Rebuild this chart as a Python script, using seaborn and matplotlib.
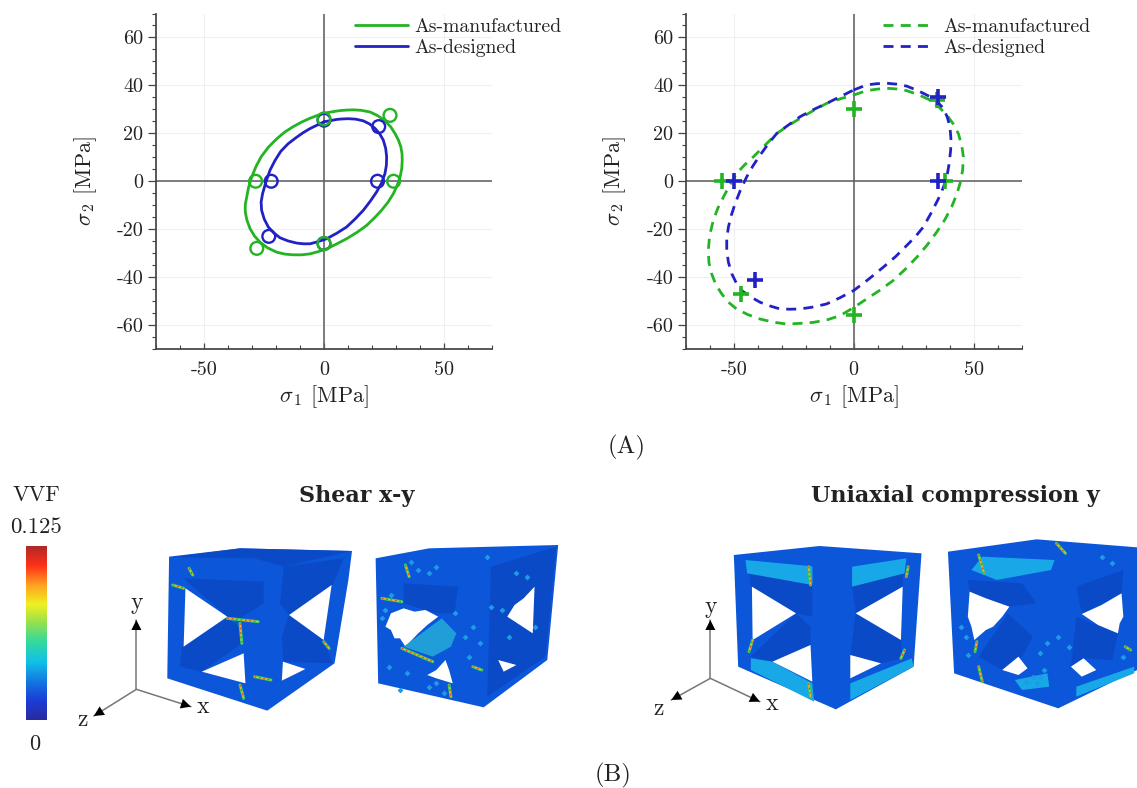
import matplotlib
matplotlib.use('Agg')
import matplotlib.pyplot as plt
import seaborn as sns
from matplotlib.cm import ScalarMappable
from matplotlib.colors import Normalize
from matplotlib.patches import Polygon

GREEN = '#22b422'
BLUE = '#2222c4'
AXIS_GREY = '#666666'
TEXT = '#222222'
LEGEND_LABELS = ['As-manufactured', 'As-designed']

# Left plot: solid curves and circles
left_green_x = [0, 3.5, 6.7, 9.5, 12.2, 15.5, 19.2, 22.5, 25.4, 27.8, 29.6, 31, 32, 32.5, 32.6, 32.4, 31.7, 30.5, 28.9, 26.7, 24, 21, 17.8, 13.8, 9.4, 5.2, 1.1, -2.5, -5.8, -9.3, -12.8, -16.3, -19.7, -23.5, -26.7, -29, -30.8, -32.1, -32.8, -32.8, -32.2, -31.4, -30.1, -28.4, -26.2, -23.2, -19.7, -16.4, -12.8, -9.3, -5.8, -2.9, 0]
left_green_y = [28.4, 29, 29.5, 29.7, 29.8, 29.6, 28.9, 27.3, 25.2, 22.7, 19.9, 17.2, 14.4, 11.6, 8.8, 5.3, 1.8, -1.7, -5.2, -8.7, -12.1, -15.3, -18.4, -21.3, -24, -26.2, -28.2, -29.4, -30.3, -30.7, -30.7, -30.4, -29.6, -27.8, -25.4, -22.8, -19.8, -16.3, -12.8, -9.7, -6.6, -2.4, 1.8, 6, 10.2, 14.2, 17.7, 20.5, 22.8, 24.7, 26.3, 27.4, 28.4]
left_blue_x = [0, 2.7, 5.3, 7.7, 10.1, 13.3, 16.4, 19, 21.3, 23.2, 24.7, 25.7, 26.1, 26, 25.4, 24, 21.9, 19.3, 16.4, 13, 9.4, 5.3, 1.1, -2.5, -5.8, -8.6, -11.4, -15, -18.3, -21, -23.2, -24.9, -26, -26.2, -25.6, -24.2, -22.5, -20.4, -18, -15, -11.9, -8.8, -5.8, -2.9, 0]
left_blue_y = [24.8, 25.3, 25.8, 26, 26.1, 25.9, 25.2, 23.9, 22, 19.8, 17.2, 13.7, 10.2, 6.7, 3.2, -0.7, -4.5, -8.3, -12.1, -15.7, -19.1, -21.7, -24, -25.2, -26.1, -26.1, -25.8, -24.9, -23.6, -21.5, -19.1, -15.8, -12.1, -8.7, -5.2, -0.3, 4.6, 8.7, 12.5, 15.6, 18, 20.2, 22, 23.4, 24.8]
circle_green_x = [0, 27.5, 29, -28.5, -28, 0]
circle_green_y = [26, 27.5, 0, 0, -28, -26]
circle_blue_x = [22.8, 22.3, -22, -23, 0, 0]
circle_blue_y = [22.8, 0, 0, -23, 25.5, -26]

# Right plot: dashed curves and crosses
right_green_x = [0, 5.4, 9.5, 13.8, 18, 22.1, 27, 31.8, 35.5, 38.8, 41.5, 43.6, 45, 45.7, 45.4, 44.3, 42.8, 40.8, 38, 34.6, 30.7, 26.3, 21.6, 16.5, 11, 5.4, 0, -5.7, -11, -16.8, -22.3, -27.9, -33.5, -39, -44.2, -48.8, -52.3, -55, -57.5, -59.2, -60.3, -60.6, -60, -58.5, -56.6, -54.3, -51.7, -48.8, -45.5, -41.8, -37, -32.1, -27.3, -22.4, -17, -11.3, -5.6, 0]
right_green_y = [36, 37.8, 38.4, 38.8, 38.5, 37.8, 36.1, 33.9, 31, 27.6, 23.9, 19.9, 15, 10.2, 4.7, -1, -5.8, -10.7, -16, -21.2, -26.5, -31.7, -36.6, -41.4, -45.4, -49.1, -52.7, -56.1, -57.8, -58.9, -59.3, -59.6, -58.8, -57.5, -55.6, -53.3, -50.4, -47, -43, -38.6, -34, -28.9, -22.5, -16.3, -11.2, -6.6, -1.7, 3.2, 6.8, 10.2, 15, 19.9, 23.2, 26.2, 29.4, 32.5, 34.4, 36]
right_blue_x = [0, 5.4, 9.5, 13.8, 18, 22.1, 27, 31.8, 35, 37.4, 39, 40.1, 40.5, 40.4, 39.8, 38.8, 37.3, 35.3, 32.4, 29, 25.8, 22.1, 17.5, 12.4, 6.3, 0, -5.7, -11.3, -17, -22.4, -26.5, -30.7, -35, -39, -43, -46.7, -49, -50.8, -52.2, -52.9, -52.9, -52.2, -51, -49.4, -47.2, -44.6, -42, -39, -35.7, -32.1, -27.3, -22.4, -17, -11.3, -5.6, 0]
right_blue_y = [38.1, 40.2, 40.7, 40.9, 40.5, 39.7, 37.7, 35.3, 33, 30.4, 26.7, 22.7, 17.9, 13, 7.5, 1.8, -2.7, -7.3, -13, -19.1, -23, -26.8, -31.4, -35.8, -40.8, -45.6, -48.6, -51.2, -52.5, -53.3, -53.4, -53.3, -52, -50.5, -48.2, -45.6, -42.3, -38.6, -33.8, -28.9, -24, -19.1, -14.2, -9.3, -3.7, 1.8, 6.4, 10.9, 15.5, 19.9, 23.4, 26.9, 29.8, 32.5, 35.3, 38.1]
cross_green_x = [-55, 0, 38, -47, 0, 34.5]
cross_green_y = [0, 30, 0, -47, -56, 34]
cross_blue_x = [-50, 35, 35, -41]
cross_blue_y = [0, 0, 35, -41]

x_ticks = [-50, 0, 50]
y_ticks = [-60, -40, -20, 0, 20, 40, 60]
x_minor = [-70, -60, -40, -30, -20, -10, 10, 20, 30, 40, 60, 70]
y_minor = [-70, -65, -55, -50, -45, -35, -30, -25, -15, -10, -5, 5, 10, 15, 25, 30, 35, 45, 50, 55, 65, 70]

colorbar_colors = ['#2a2a9e', '#1a3cd8', '#1478e0', '#10c0e8', '#30d8a0', '#90e050',
                   '#f0f020', '#ffa020', '#ff3018', '#b02828']

# Lattice cubes, outlines
BASE = '#0c56da'
DARK = '#0a4ac6'
CYAN = '#18a8e8'

c1_shell = [(465,260),(660,235),(968,243),(958,330),(920,580),(735,722),(460,625)]
c1_dark = [[(470,262),(660,235),(968,243),(780,290),(700,265)],
           [(505,325),(725,335),(725,400),(660,445),(625,440)],
           [(500,530),(625,445),(660,470),(665,520),(555,605),(495,590)],
           [(780,290),(945,265),(915,345),(795,435),(770,400)],
           [(795,435),(890,510),(915,580),(780,575),(775,500)]]
c1_holes = [[(510,355),(625,440),(505,530)],
            [(555,605),(670,550),(675,640)],
            [(912,345),(795,435),(890,510)],
            [(778,575),(840,597),(775,632)]]
c1_hot = [[(475,345),(505,355)], [(625,445),(710,455)], [(660,460),(665,520)],
          [(700,620),(745,630)], [(660,645),(670,685)], [(520,295),(530,315)], [(890,515),(905,535)]]

c2_shell = [(1033,265),(1180,235),(1535,225),(1505,570),(1330,712),(1040,640)]
c2_dark = [[(1350,290),(1530,230),(1500,560),(1340,680)],
           [(1110,340),(1260,350),(1250,430),(1200,430),(1110,400)]]
c2_holes = [[(1075,430),(1110,415),(1140,425),(1170,420),(1205,440),(1175,465),(1150,490),(1115,530),(1100,505),(1085,505),(1075,480),(1060,470)],
            [(1175,615),(1200,600),(1225,570),(1235,600),(1245,640),(1200,625)],
            [(1470,350),(1440,385),(1415,405),(1395,440),(1430,465),(1465,490)],
            [(1370,570),(1420,585),(1385,605)]]
c2_cyan = [[(1110,530),(1215,445),(1255,490),(1240,530),(1190,560)]]
c2_hot = [[(1050,385),(1105,395)], [(1105,535),(1190,575)], [(1115,285),(1125,320)],
          [(1235,645),(1240,680)], [(1300,590),(1325,600)]]
c2_spot_x = [1060, 1050, 1070, 1120, 1180, 1200, 1150, 1180, 1200, 1130, 1340, 1290, 1280, 1320, 1300, 1380, 1400, 1350, 1470, 1450, 1420, 1100, 1220, 1250, 1075]
c2_spot_y = [420, 445, 590, 610, 650, 640, 300, 310, 290, 275, 260, 560, 500, 520, 470, 420, 500, 410, 470, 320, 310, 660, 670, 430, 375]

c3_shell = [(453,255),(690,228),(972,250),(950,590),(735,718),(465,590)]
c3_dark = [[(495,310),(670,345),(670,440),(625,430),(500,350)],
           [(780,350),(920,310),(920,350),(790,430)],
           [(500,560),(625,430),(665,470),(665,525),(560,575)],
           [(790,430),(915,510),(920,565),(860,580),(775,555)]]
c3_cyan = [[(485,270),(680,290),(670,345),(490,310)],
           [(500,565),(560,575),(670,640),(675,695),(500,600)],
           [(775,640),(945,565),(950,590),(775,690)],
           [(780,290),(930,265),(925,310),(780,350)]]
c3_front = [(670,280),(695,230),(720,280),(780,290),(770,650),(735,718),(675,670)]
c3_holes = [[(503,350),(625,430),(505,510)],
            [(560,575),(665,525),(670,635)],
            [(920,350),(790,430),(915,510)],
            [(775,555),(860,580),(775,625)]]
c3_hot = [[(660,290),(665,345)], [(660,640),(665,680)], [(495,545),(505,510)],
          [(925,540),(915,565)], [(935,290),(930,320)]]

c4_shell = [(1045,245),(1290,208),(1568,232),(1568,600),(1350,715),(1062,610)]
c4_dark = [[(1100,330),(1250,340),(1290,400),(1210,410),(1105,365)],
           [(1130,560),(1210,430),(1280,500),(1250,560),(1195,600)],
           [(1400,350),(1530,300),(1525,370),(1415,432)],
           [(1400,440),(1515,490),(1500,570),(1420,565),(1385,590)]]
c4_cyan = [[(1140,260),(1340,270),(1330,300),(1180,330),(1110,300)],
           [(1230,630),(1320,610),(1325,650),(1250,660)],
           [(1400,650),(1560,590),(1560,610),(1400,680)]]
c4_holes = [[(1105,365),(1150,385),(1215,410),(1195,440),(1170,470),(1150,480),(1118,510),(1110,470),(1100,440)],
            [(1195,600),(1240,560),(1265,595),(1240,615)],
            [(1525,370),(1470,405),(1415,432),(1460,465),(1515,490),(1520,460),(1530,440)],
            [(1385,590),(1420,565),(1455,600),(1415,620)]]
c4_hot = [[(1130,255),(1145,310)], [(1130,590),(1140,635)], [(1125,515),(1120,545)],
          [(1345,220),(1370,250)], [(1535,530),(1550,540)]]
c4_spot_x = [1080, 1095, 1300, 1320, 1290, 1350, 1380, 1310, 1280, 1530, 1500, 1470, 1100, 1260, 1300]
c4_spot_y = [470, 500, 550, 520, 640, 500, 530, 600, 620, 560, 280, 260, 555, 635, 620]

# Axis triads: origin, y tip, z tip, x tip
triad_left = [(375,658),(375,450),(258,738),(525,710)]
triad_right = [(388,625),(388,450),(280,690),(525,695)]
triad_left_text = [(375,400),(228,750),(558,712)]
triad_right_text = [(388,410),(245,717),(558,703)]
triad_names = ['y', 'z', 'x']

sns.set_theme(style='ticks')
plt.rcParams['font.family'] = ['cmr10', 'DejaVu Serif']
plt.rcParams['mathtext.fontset'] = 'cm'
plt.rcParams['axes.unicode_minus'] = False
plt.rcParams['axes.formatter.use_mathtext'] = True

W, H = 1137, 788
fig = plt.figure(figsize=(W / 100, H / 100), dpi=100)


def setup_axes(left):
    ax = fig.add_axes([left / W, 1 - 349 / H, 336 / W, 335.5 / H])
    ax.set_xlim(-70, 70)
    ax.set_ylim(-70, 70)
    ax.set_xticks(x_ticks)
    ax.set_yticks(y_ticks)
    ax.set_xticks(x_minor, minor=True)
    ax.set_yticks(y_minor, minor=True)
    ax.set_xticklabels([str(t) for t in x_ticks])
    ax.set_yticklabels([str(t) for t in y_ticks])
    ax.tick_params(axis='x', which='major', direction='in', length=4, width=0.9, color='#444444',
                   labelsize=14.5, labelcolor=TEXT, pad=9)
    ax.tick_params(axis='x', which='minor', direction='in', length=3, width=0.8, color='#444444')
    ax.tick_params(axis='y', which='major', direction='out', length=6, width=0.9, color='#444444',
                   labelsize=14.5, labelcolor=TEXT, pad=3)
    ax.tick_params(axis='y', which='minor', direction='out', length=3, width=0.8, color='#444444')
    ax.grid(True, which='major', color='#f0f0f0', lw=0.8)
    ax.axhline(0, color=AXIS_GREY, lw=1.2, zorder=1)
    ax.axvline(0, color=AXIS_GREY, lw=1.2, zorder=1)
    sns.despine(ax=ax)
    ax.spines['left'].set_color('#444444')
    ax.spines['bottom'].set_color('#444444')
    ax.set_xlabel(r'$\sigma_{\,1}$ [MPa]', fontsize=16, color=TEXT, labelpad=3)
    ax.set_ylabel(r'$\sigma_{\,2}$ [MPa]', fontsize=16, color=TEXT, labelpad=13)
    return ax


def draw_legend(ax, anchor, handlelength, textpad):
    ax.legend(frameon=False, loc='upper left', bbox_to_anchor=(anchor, 0.987), fontsize=14.2,
              handlelength=handlelength, handletextpad=textpad, labelspacing=0.15, borderpad=0,
              borderaxespad=0, labelcolor=TEXT)


# Top left
ax1 = setup_axes(156)
sns.lineplot(x=left_green_x, y=left_green_y, sort=False, estimator=None, color=GREEN, lw=2,
             label=LEGEND_LABELS[0], ax=ax1, zorder=3)
sns.lineplot(x=left_blue_x, y=left_blue_y, sort=False, estimator=None, color=BLUE, lw=2,
             label=LEGEND_LABELS[1], ax=ax1, zorder=3)
sns.scatterplot(x=circle_blue_x, y=circle_blue_y, marker='o', s=85, facecolor='none', edgecolor=BLUE,
                linewidth=1.7, ax=ax1, zorder=4, legend=False)
sns.scatterplot(x=circle_green_x, y=circle_green_y, marker='o', s=85, facecolor='none', edgecolor=GREEN,
                linewidth=1.7, ax=ax1, zorder=4, legend=False)
draw_legend(ax1, 0.592, 2.7, 0.3)

# Top right
DASH = (0, (3.6, 2.6))
ax2 = setup_axes(685.7)
sns.lineplot(x=right_green_x, y=right_green_y, sort=False, estimator=None, color=GREEN, lw=2,
             linestyle=DASH, label=LEGEND_LABELS[0], ax=ax2, zorder=3)
sns.lineplot(x=right_blue_x, y=right_blue_y, sort=False, estimator=None, color=BLUE, lw=2,
             linestyle=DASH, label=LEGEND_LABELS[1], ax=ax2, zorder=3)
sns.scatterplot(x=cross_green_x, y=cross_green_y, marker='+', s=130, color=GREEN, linewidth=2.6,
                ax=ax2, zorder=4, legend=False)
sns.scatterplot(x=cross_blue_x, y=cross_blue_y, marker='+', s=130, color=BLUE, linewidth=2.6,
                ax=ax2, zorder=4, legend=False)
draw_legend(ax2, 0.587, 2.3, 0.75)

# Lower panel, pixel coordinates of the picture
art = fig.add_axes([0, 0, 1, 1])
art.patch.set_alpha(0)


def to_px(pts, x0, sx):
    return [(x0 + x / sx, 470 + y / 3) for x, y in pts]


def fill(pts, x0, sx, color, z=2):
    art.add_patch(Polygon(to_px(pts, x0, sx), closed=True, facecolor=color, edgecolor='none', zorder=z))


def hot_band(lines, x0, sx):
    # green rim with a yellow and red core, like the hot spots of the render
    for seg in lines:
        p = to_px(seg, x0, sx)
        xs = [p[0][0], p[1][0]]
        ys = [p[0][1], p[1][1]]
        art.plot(xs, ys, color='#25c878', lw=2.2, solid_capstyle='round', zorder=5)
        art.plot(xs, ys, color='#d8c020', lw=1.1, zorder=6)
        art.plot(xs, ys, color='#d83a20', lw=0.8, ls=(0, (1.5, 2.5)), zorder=7)


def spots(xs, ys, x0, sx):
    p = to_px(list(zip(xs, ys)), x0, sx)
    sns.scatterplot(x=[q[0] for q in p], y=[q[1] for q in p], s=9, marker='D', color='#1f9ae4', linewidth=0,
                    ax=art, zorder=4, legend=False)


def draw_cube(x0, sx, shell, dark, holes, hot, cyan=(), front=None):
    fill(shell, x0, sx, BASE)
    for p in dark:
        fill(p, x0, sx, DARK, 3)
    for p in cyan:
        fill(p, x0, sx, CYAN, 3)
    for p in holes:
        fill(p, x0, sx, 'white', 4.5)
    if front is not None:
        fill(front, x0, sx, BASE, 4.6)
    hot_band(hot, x0, sx)


draw_cube(0, 2.75, c1_shell, c1_dark, c1_holes, c1_hot)
draw_cube(0, 2.75, c2_shell, c2_dark, c2_holes, c2_hot)
spots(c2_spot_x, c2_spot_y, 0, 2.75)
fill(c2_cyan[0], 0, 2.75, '#1f9ed8', 5)
draw_cube(570, 2.765, c3_shell, c3_dark, c3_holes, c3_hot, cyan=c3_cyan, front=c3_front)
draw_cube(570, 2.765, c4_shell, c4_dark, c4_holes, c4_hot, cyan=c4_cyan)
spots(c4_spot_x, c4_spot_y, 570, 2.765)
art.set_xlim(0, W)
art.set_ylim(H, 0)
art.axis('off')


def draw_triad(tips, labels, x0, sx):
    tips = to_px(tips, x0, sx)
    labels = to_px(labels, x0, sx)
    for tip in tips[1:]:
        art.plot([tips[0][0], tip[0]], [tips[0][1], tip[1]], color='#777777', lw=1.1, zorder=5)
        art.annotate('', xy=tip, xytext=tips[0], zorder=6,
                     arrowprops=dict(arrowstyle='-|>,head_length=0.6,head_width=0.3', color='black',
                                     lw=0, shrinkA=0, shrinkB=0))
    for pos, name in zip(labels, triad_names):
        art.text(pos[0], pos[1], name, fontsize=17, color=TEXT, ha='center', va='center')


draw_triad(triad_left, triad_left_text, 0, 2.75)
draw_triad(triad_right, triad_right_text, 570, 2.765)
art.set_xlim(0, W)
art.set_ylim(H, 0)

# Colour bar
cax = fig.add_axes([25.5 / W, 1 - 720 / H, 21.5 / W, 174 / H])
cmap = sns.blend_palette(colorbar_colors, as_cmap=True)
cb = fig.colorbar(ScalarMappable(Normalize(0, 0.125), cmap), cax=cax)
cb.set_ticks([])
cb.outline.set_visible(False)

art.text(36, 495, 'VVF', fontsize=16, color=TEXT, ha='center', va='center')
art.text(36, 527, '0.125', fontsize=16.5, color=TEXT, ha='center', va='center')
art.text(35, 744, '0', fontsize=16, color=TEXT, ha='center', va='center')
art.text(357, 496, 'Shear x-y', fontsize=16, family='DejaVu Serif', weight='bold', color=TEXT, ha='center', va='center')
art.text(955, 496, 'Uniaxial compression y', fontsize=16, family='DejaVu Serif', weight='bold', color=TEXT, ha='center', va='center')
art.text(627, 447, '(A)', fontsize=18, color=TEXT, ha='center', va='center')
art.text(613, 775, '(B)', fontsize=18, color=TEXT, ha='center', va='center')

fig.savefig('out.png', dpi=100)
